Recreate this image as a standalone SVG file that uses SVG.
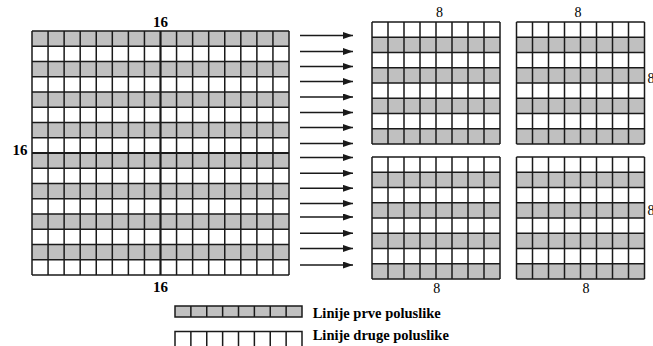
<svg xmlns="http://www.w3.org/2000/svg" xmlns:xlink="http://www.w3.org/1999/xlink" width="653" height="346" viewBox="0 0 653 346">
<style>
.g{fill:#c0c0c0}
.ln{fill:none;stroke:#1a1a1a;stroke-width:1.5}
.thick{fill:none;stroke:#1a1a1a;stroke-width:2.2}
.lb{font-family:"Liberation Serif","Times New Roman",serif;font-weight:bold;font-size:15px;fill:#000}
.l8{font-family:"Liberation Serif","Times New Roman",serif;font-size:14px;fill:#000}
.lg{font-family:"Liberation Serif","Times New Roman",serif;font-weight:bold;font-size:14.5px;fill:#000}
.arr{stroke:#1a1a1a;stroke-width:1.6;fill:none;marker-end:url(#ah)}
</style>
<defs>
<g id="small">
<rect x="0" y="0" width="128" height="122" fill="#fff"/>
<rect class="g" x="0" y="15.25" width="128" height="15.25"/>
<rect class="g" x="0" y="45.75" width="128" height="15.25"/>
<rect class="g" x="0" y="76.25" width="128" height="15.25"/>
<rect class="g" x="0" y="106.75" width="128" height="15.25"/>
<path class="ln" d="M0 0V122M16 0V122M32 0V122M48 0V122M64 0V122M80 0V122M96 0V122M112 0V122M128 0V122M0 0H128M0 15.25H128M0 30.5H128M0 45.75H128M0 61H128M0 76.25H128M0 91.5H128M0 106.75H128M0 122H128"/>
</g>
<marker id="ah" markerWidth="10" markerHeight="7" refX="10" refY="3.5" orient="auto" markerUnits="userSpaceOnUse">
<path d="M0 0L10 3.5L0 7Z" fill="#1a1a1a"/>
</marker>
</defs>
<rect width="653" height="346" fill="#fff"/>

<g id="big-grid">
<rect x="32" y="31" width="257" height="244" fill="#fff"/>
<rect class="g" x="32" y="31" width="257" height="15.25"/>
<rect class="g" x="32" y="61.5" width="257" height="15.25"/>
<rect class="g" x="32" y="92" width="257" height="15.25"/>
<rect class="g" x="32" y="122.5" width="257" height="15.25"/>
<rect class="g" x="32" y="153" width="257" height="15.25"/>
<rect class="g" x="32" y="183.5" width="257" height="15.25"/>
<rect class="g" x="32" y="214" width="257" height="15.25"/>
<rect class="g" x="32" y="244.5" width="257" height="15.25"/>
<path class="ln" d="M32 31V275M48.06 31V275M64.13 31V275M80.19 31V275M96.25 31V275M112.31 31V275M128.38 31V275M144.44 31V275M176.56 31V275M192.63 31V275M208.69 31V275M224.75 31V275M240.81 31V275M256.88 31V275M272.94 31V275M289 31V275M32 31H289M32 46.25H289M32 61.5H289M32 76.75H289M32 92H289M32 107.25H289M32 122.5H289M32 137.75H289M32 168.25H289M32 183.5H289M32 198.75H289M32 214H289M32 229.25H289M32 244.5H289M32 259.75H289M32 275H289"/>
<path class="thick" d="M160.5 31V275M32 153H289"/>
<text class="lb" x="160.5" y="26.5" text-anchor="middle">16</text>
<text class="lb" x="20" y="155" text-anchor="middle">16</text>
<text class="lb" x="160.5" y="291.5" text-anchor="middle">16</text>
</g>

<g id="connectors">
<line class="arr" x1="300" y1="35.5" x2="353" y2="35.5"/>
<line class="arr" x1="300" y1="51.5" x2="353" y2="51.5"/>
<line class="arr" x1="300" y1="66.5" x2="353" y2="66.5"/>
<line class="arr" x1="300" y1="81.5" x2="353" y2="81.5"/>
<line class="arr" x1="300" y1="97" x2="353" y2="97"/>
<line class="arr" x1="300" y1="112.5" x2="353" y2="112.5"/>
<line class="arr" x1="300" y1="127.5" x2="353" y2="127.5"/>
<line class="arr" x1="300" y1="143.5" x2="353" y2="143.5"/>
<line class="arr" x1="300" y1="157.5" x2="353" y2="157.5"/>
<line class="arr" x1="300" y1="173.3" x2="353" y2="173.3"/>
<line class="arr" x1="300" y1="188.3" x2="353" y2="188.3"/>
<line class="arr" x1="300" y1="203.5" x2="353" y2="203.5"/>
<line class="arr" x1="300" y1="217" x2="353" y2="217"/>
<line class="arr" x1="300" y1="233.3" x2="353" y2="233.3"/>
<line class="arr" x1="300" y1="248.5" x2="353" y2="248.5"/>
<line class="arr" x1="300" y1="265" x2="353" y2="265"/>
</g>

<g id="grid-top-left">
<use xlink:href="#small" href="#small" x="372" y="22"/>
<text class="l8" x="439.5" y="16.7" text-anchor="middle">8</text>
</g>
<g id="grid-top-right">
<use xlink:href="#small" href="#small" x="516.5" y="22"/>
<text class="l8" x="578" y="16.7" text-anchor="middle">8</text>
<text class="l8" x="647.5" y="83.3">8</text>
</g>
<g id="grid-bottom-left">
<use xlink:href="#small" href="#small" x="372" y="157"/>
<text class="l8" x="436.7" y="293" text-anchor="middle">8</text>
</g>
<g id="grid-bottom-right">
<use xlink:href="#small" href="#small" x="516.5" y="157"/>
<text class="l8" x="647.5" y="215">8</text>
<text class="l8" x="586" y="293" text-anchor="middle">8</text>
</g>

<g id="legend-first">
<rect class="g" x="175" y="306" width="127" height="11"/>
<path class="ln" d="M175 306H302V317H175ZM190.88 306V317M206.75 306V317M222.63 306V317M238.5 306V317M254.38 306V317M270.25 306V317M286.13 306V317"/>
<text class="lg" x="312.7" y="317.5">Linije prve poluslike</text>
</g>
<g id="legend-second">
<rect x="175" y="331.5" width="127" height="16" fill="#fff"/>
<path class="ln" d="M175 347.5V331.5H302V347.5M190.88 331.5V347.5M206.75 331.5V347.5M222.63 331.5V347.5M238.5 331.5V347.5M254.38 331.5V347.5M270.25 331.5V347.5M286.13 331.5V347.5"/>
<text class="lg" x="312.7" y="340">Linije druge poluslike</text>
</g>
</svg>
